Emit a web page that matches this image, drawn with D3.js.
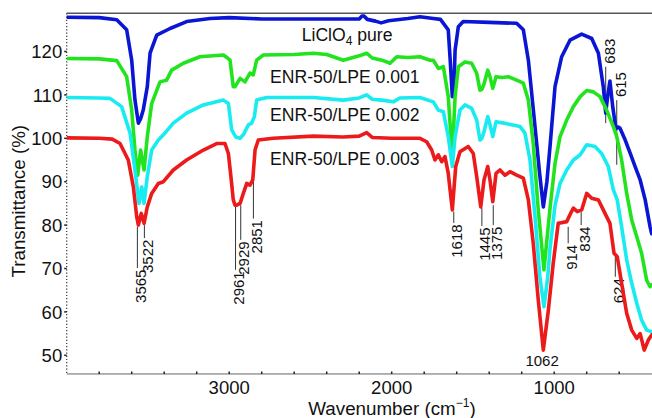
<!DOCTYPE html>
<html><head><meta charset="utf-8">
<script src="https://cdn.jsdelivr.net/npm/d3@7/dist/d3.min.js"></script>
<style>
html,body{margin:0;padding:0;background:#fff;}
svg{display:block;font-family:"Liberation Sans",Arial,Helvetica,sans-serif;}
</style></head>
<body>
<svg id="chart" width="652" height="418"></svg>
<script>
// ---- data ----
const blueWn  = [4000,3800,3692,3631,3600,3580,3559,3545,3529,3504,3487,3446,3364,3262,3118,3000,2800,2500,2200,2177,2150,2100,2065,2020,1900,1826,1744,1700,1652,1640,1627,1615,1610,1590,1560,1400,1231,1190,1159,1118,1090,1067,1045,1026,995,954,903,831,769,728,698,683,670,657,640,620,606,595,563,532,502,471,440,410,400];
const blueVal = [127.9,127.8,127.3,125,118,108.8,103.5,104.5,106.5,111.9,119.6,123.8,125.3,126.9,127.6,127.8,127.5,127.5,127.5,128.4,127.4,127.0,126.6,127.1,127.6,128,127.6,127.4,125,118,109.6,114,120.3,125.7,126.9,126.7,126.5,125,118,102.7,92,84.2,90,98,111.9,118.8,122.6,124,123,119.6,111.9,105.8,110,113.2,107.3,102.2,102.6,102.3,99.6,96.5,93.5,90.4,85.8,79.6,78];

const greenWn  = [4000,3800,3692,3631,3600,3580,3563,3545,3535,3524,3504,3477,3426,3385,3354,3282,3180,3036,3010,2995,2975,2964,2933,2903,2872,2852,2831,2790,2600,2482,2400,2298,2200,2154,2120,2060,2010,1969,1900,1826,1764,1744,1713,1682,1652,1627,1610,1590,1549,1508,1477,1457,1445,1432,1409,1395,1378,1358,1320,1283,1231,1190,1159,1129,1098,1063,1026,995,964,923,882,840,800,759,718,677,636,615,585,554,523,492,462,431,410,400];
const greenVal = [118.4,118.3,117.9,114.2,106.5,97.3,91.5,97.3,95,92.7,100.4,108,113,113.4,115.7,117.3,118.8,119.2,118.5,118,111.9,111.9,113.8,113,115,114.6,118,119.2,119.3,119.6,119.3,118,119,119.6,118.5,118,117.3,118.8,118.6,118.8,118,118,116.1,116.5,109.6,95.8,109.6,116.5,117.6,117.3,115,111.1,111.3,112.5,115.7,114.2,111.5,114.2,114.0,114.2,113.4,112.7,108.8,98.8,83.5,69.7,83.8,94.2,100.4,104.2,107.3,109.6,111,110.7,109.6,106.5,102.7,100.4,95,87.3,81.2,77.3,73.5,67.3,65.8,66.3];

const cyanWn  = [4000,3800,3734,3662,3610,3580,3555,3538,3524,3504,3477,3436,3405,3344,3262,3159,3036,3005,2985,2960,2933,2910,2882,2862,2845,2831,2769,2482,2298,2200,2154,2120,2060,1990,1950,1826,1744,1713,1682,1652,1627,1610,1580,1549,1508,1477,1457,1445,1432,1409,1395,1378,1358,1310,1262,1210,1180,1149,1118,1088,1063,1040,1026,995,964,923,882,840,800,749,708,667,636,612,585,554,523,492,462,431,400];
const cyanVal = [109.4,109.3,109.2,107.3,101.2,92.7,85,88.8,85,91.2,97.3,99.6,100.8,103.5,105.8,107.7,108.8,108,102,100.3,100,101,103.1,103.5,105,108.8,109.4,109.4,108.8,109.3,110,109,108.8,108.4,109.3,109.4,108.4,106.5,106.1,100.4,93.5,100.4,106.5,107.7,106.9,104.2,99.6,100,101.5,105,103.1,100.4,103.8,103.5,103.1,102.7,101.2,95,81.9,68.1,61.2,68,74.5,84.5,89.6,92.7,95,96.2,98.5,98.1,96.5,93.5,88.1,85.8,79.6,72,66.6,62,58.1,55.8,55.4];

const redWn  = [4000,3800,3720,3672,3621,3590,3569,3559,3541,3524,3504,3477,3436,3405,3344,3262,3159,3077,3026,3005,2985,2975,2964,2954,2933,2913,2892,2872,2855,2841,2821,2729,2482,2300,2200,2154,2120,2000,1826,1785,1754,1734,1713,1692,1672,1652,1627,1606,1580,1529,1498,1477,1452,1432,1409,1395,1378,1358,1334,1303,1272,1231,1190,1159,1129,1098,1067,1036,1006,975,964,923,895,882,858,831,800,769,728,698,657,632,612,585,554,523,492,471,446,421,400];
const redVal = [100.1,100,99.8,98.8,95,88.8,81.9,80,82.7,80.4,84.2,87.3,89.6,90,92.7,95,97.3,98.8,98.8,96.5,89.6,85.8,84.6,84.6,85,87.3,89.6,89.2,90.4,97.3,99.6,100,100.5,100.3,100.5,101.3,100.2,100,100,99.2,97.3,95,96.2,94.6,95.8,91.9,83.5,93.5,96.9,98.1,96.5,91.2,84.2,90.4,93.5,90.4,85.4,91.9,92.7,91.5,92.3,91.5,90.8,85.8,75.8,62.7,51.2,60.4,71.2,80.5,80.5,80.8,83,83.9,83.1,83.5,87.3,86.2,85.8,83.5,80.4,73.5,72.7,66.6,59.7,55.8,53.9,55,51.2,53.5,54.7];

const seriesNames = ["LiClO4 pure","ENR-50/LPE 0.001","ENR-50/LPE 0.002","ENR-50/LPE 0.003"];
const seriesColors = ["#0b16d4","#22e41e","#18ecf0","#ec1a1a"];

const xTicks = [3000,2000,1000];
const yTicks = [50,60,70,80,90,100,110,120];

// peak annotations: label, line top value, line bottom value, label side
const peakLabels = ["3565","3522","2961","2929","2851","1618","1445","1375","914","834","624"];
const peakTop    = [79.6,80,84.6,84.6,90.4,83.1,84,84.6,79.6,83,72.7];
const peakBottom = [70.1,77,69.7,76.6,81.5,80.5,79.8,80,75.8,80,68.1];
const upLabels   = ["683","615"];
const upTop      = [116.5,108.8];
const upBottom   = [103.5,93.9];

// ---- drawing ----
const svg = d3.select("#chart");
const x = d3.scaleLinear().domain([4000,400]).range([66.7,651.7]);
const y = d3.scaleLinear().domain([50,120]).range([355.3,51.5]);
const yTopVal = 128.8, yBotVal = 45.7;

// top frame line
svg.append("line").attr("x1",x(4000)).attr("x2",652).attr("y1",y(yTopVal)).attr("y2",y(yTopVal))
  .attr("stroke","#555").attr("stroke-width",1.4);

// bottom axis
const xAxisG = svg.append("g").attr("transform",`translate(0,${y(yBotVal)})`);
xAxisG.append("line").attr("x1",x(4000)).attr("x2",652).attr("stroke","#666").attr("stroke-width",1);
const minorX = d3.range(3800,400,-200);
xAxisG.selectAll("line.mt").data(minorX).join("line").attr("class","mt")
  .attr("x1",d=>x(d)).attr("x2",d=>x(d)).attr("y1",-2.5).attr("y2",0)
  .attr("stroke","#222").attr("stroke-width",1.5);
xAxisG.selectAll("text").data(xTicks).join("text")
  .attr("x",d=>x(d)).attr("y",20.5).attr("text-anchor","middle")
  .attr("font-size",18.5).attr("fill","#111").text(d=>d);

// left axis (dotted)
const yAxisG = svg.append("g").attr("transform",`translate(${x(4000)},0)`);
yAxisG.append("line").attr("y1",y(yTopVal)).attr("y2",y(yBotVal))
  .attr("stroke","#333").attr("stroke-width",1.2).attr("stroke-dasharray","1.2,2");
yAxisG.selectAll("line.t").data(yTicks).join("line").attr("class","t")
  .attr("x1",-2.5).attr("x2",0).attr("y1",d=>y(d)).attr("y2",d=>y(d))
  .attr("stroke","#222").attr("stroke-width",1.5);
yAxisG.selectAll("text").data(yTicks).join("text")
  .attr("x",-4.5).attr("y",d=>y(d)).attr("dy","0.36em").attr("text-anchor","end")
  .attr("font-size",18.5).attr("fill","#111").text(d=>d);

// axis titles
svg.append("text").attr("transform",`translate(18.5,${y(85.5)}) rotate(-90)`)
  .attr("text-anchor","middle").attr("dy","0.36em").attr("font-size",18.8).attr("fill","#111")
  .text("Transmittance (%)");
const xt = svg.append("text").attr("x",392).attr("y",415).attr("text-anchor","middle")
  .attr("font-size",18.8).attr("fill","#111");
xt.append("tspan").text("Wavenumber (cm");
xt.append("tspan").attr("font-size",12).attr("dy",-8).text("\u22121");
xt.append("tspan").attr("dy",8).text(")");

// annotations (drawn under curves)
const ann = svg.append("g");
peakLabels.forEach((lab,i)=>{
  const xp = x(+lab);
  ann.append("line").attr("x1",xp).attr("x2",xp).attr("y1",y(peakTop[i])).attr("y2",y(peakBottom[i]))
    .attr("stroke","#333").attr("stroke-width",1);
  ann.append("text").attr("transform",`translate(${xp+3},${y(peakBottom[i])+1.5}) rotate(-90)`)
    .attr("text-anchor","end").attr("dy","0.36em").attr("font-size",15).attr("fill","#111").text(lab);
});
upLabels.forEach((lab,i)=>{
  const xp = x(+lab);
  ann.append("line").attr("x1",xp).attr("x2",xp).attr("y1",y(upTop[i])).attr("y2",y(upBottom[i]))
    .attr("stroke","#333").attr("stroke-width",1);
  ann.append("text").attr("transform",`translate(${xp+4},${y(upTop[i])-3}) rotate(-90)`)
    .attr("text-anchor","start").attr("dy","0.36em").attr("font-size",15).attr("fill","#111").text(lab);
});
ann.append("text").attr("x",x(1062)-2).attr("y",y(47.5)).attr("text-anchor","middle")
  .attr("font-size",15).attr("fill","#111").text("1062");

// curves
const line = d3.line().x(d=>x(d[0])).y(d=>y(d[1]));
const allSeries = [
  d3.zip(blueWn,blueVal),
  d3.zip(greenWn,greenVal),
  d3.zip(cyanWn,cyanVal),
  d3.zip(redWn,redVal)
];
svg.append("defs").append("clipPath").attr("id","clip").append("rect")
  .attr("x",x(4000)).attr("y",y(yTopVal)+1).attr("width",652-x(4000)).attr("height",y(yBotVal)-y(yTopVal)-1);
const curves = svg.append("g").attr("clip-path","url(#clip)");
curves.selectAll("path").data(allSeries).join("path")
  .attr("d",line).attr("fill","none")
  .attr("stroke",(d,i)=>seriesColors[i]).attr("stroke-width",3.6)
  .attr("stroke-linejoin","round").attr("stroke-linecap","round");

// series labels
const labY = [41,83.3,121,165];
const labX = [301.7,270,270,270];
seriesNames.forEach((nm,i)=>{
  const t = svg.append("text").attr("x",labX[i]).attr("y",labY[i])
    .attr("font-size",17.6).attr("fill","#111");
  if(nm.startsWith("LiClO4")){
    t.append("tspan").text("LiClO");
    t.append("tspan").attr("font-size",12).attr("dy",4).text("4");
    t.append("tspan").attr("dy",-4).text(" pure");
  } else t.text(nm);
});
</script>
</body></html>
